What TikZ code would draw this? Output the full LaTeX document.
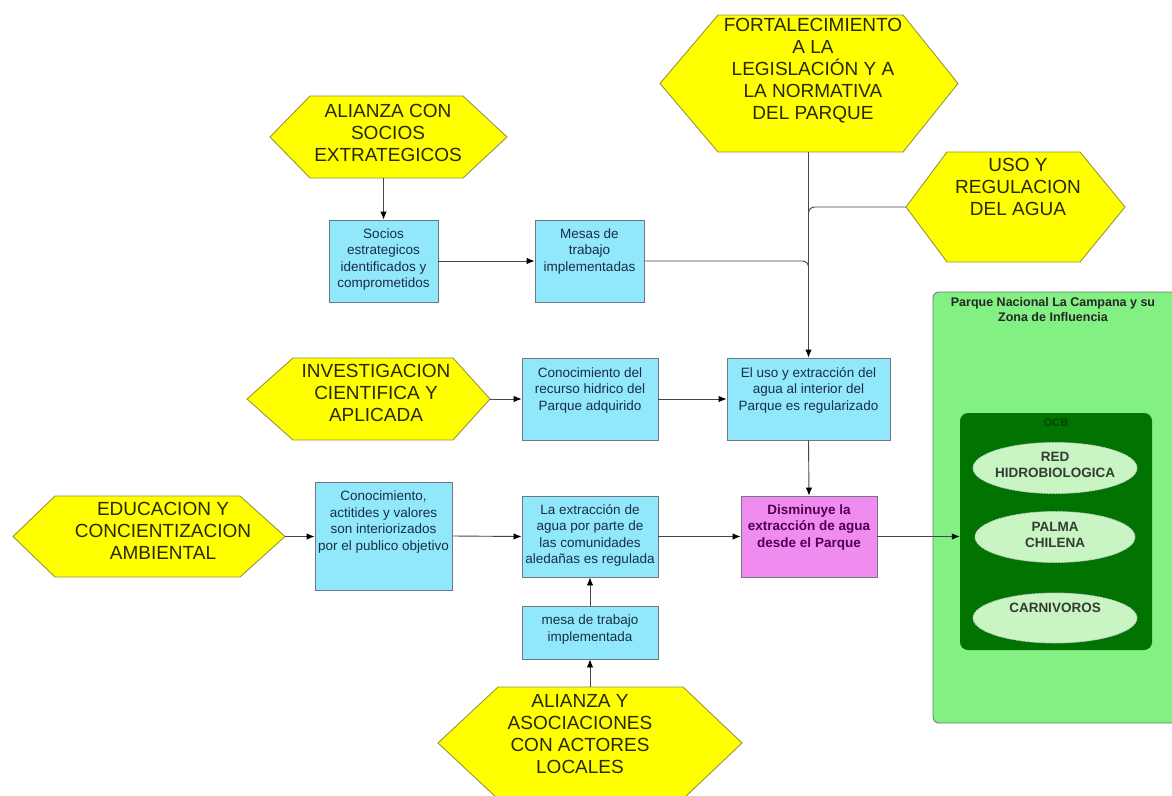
\documentclass[tikz,border=0pt]{standalone}
\usepackage{fontspec}
\setmainfont{Liberation Sans}
\usetikzlibrary{arrows.meta,shapes.geometric}
\definecolor{hexfill}{RGB}{255,255,0}
\definecolor{hexline}{RGB}{150,150,60}
\definecolor{hextext}{RGB}{40,40,10}
\definecolor{boxfill}{RGB}{145,232,250}
\definecolor{boxline}{RGB}{110,120,130}
\definecolor{boxtext}{RGB}{25,45,70}
\definecolor{magfill}{RGB}{240,140,240}
\definecolor{magtext}{RGB}{80,0,80}
\definecolor{parkfill}{RGB}{130,240,130}
\definecolor{parkline}{RGB}{110,130,110}
\definecolor{ocbfill}{RGB}{0,115,0}
\definecolor{ocbtext}{RGB}{0,70,0}
\definecolor{ellfill}{RGB}{200,245,195}
\definecolor{elltext}{RGB}{50,60,50}
\definecolor{linecol}{RGB}{70,70,70}
\tikzset{
  hexa/.style={fill=hexfill, draw=hexline, line width=0.9pt, line join=miter},
  hextxt/.style={text=hextext, align=center, font=\fontsize{19}{22}\selectfont, inner sep=0},
  box/.style={fill=boxfill, draw=boxline, line width=0.9pt, inner sep=0},
  magbox/.style={fill=magfill, draw=boxline, line width=0.9pt, inner sep=0},
  boxtxt/.style={text=boxtext, align=center, font=\fontsize{13.5}{16.5}\selectfont, inner sep=0, anchor=north},
  magtxt/.style={text=magtext, align=center, font=\bfseries\fontsize{13.5}{16.5}\selectfont, inner sep=0, anchor=north},
  conn/.style={draw=linecol, line width=0.9pt, -{Latex[length=8pt,width=6.5pt,color=black]}},
  plain/.style={draw=linecol, line width=0.9pt},
  parkbox/.style={fill=parkfill, draw=parkline, line width=0.9pt, rounded corners=6pt, inner sep=0},
  ocbbox/.style={fill=ocbfill, draw=none, rounded corners=8pt, inner sep=0},
  ell/.style={ellipse, fill=ellfill, draw=white!80!black, dashed, dash pattern=on 2pt off 1pt, line width=0.8pt, inner sep=0},
  elltxt/.style={text=elltext, align=center, font=\bfseries\fontsize{13.5}{16}\selectfont, inner sep=0},
}
\newcommand{\hexpath}[7]{%
  \path[hexa] (#2,{(#6+#7)/2}) -- (#3,#6) -- (#4,#6) -- (#5,{(#6+#7)/2}) -- (#4,#7) -- (#3,#7) -- cycle;
  \coordinate (#1-w) at (#2,{(#6+#7)/2});
  \coordinate (#1-e) at (#5,{(#6+#7)/2});
  \coordinate (#1-n) at ({(#2+#5)/2},#6);
  \coordinate (#1-s) at ({(#2+#5)/2},#7);
}
\begin{document}
\begin{tikzpicture}[x=1pt,y=-1pt]
\clip (0,0) rectangle (1172,795);
\fill[white] (0,0) rectangle (1172,795);

% ---- green panel ----
\node[parkbox, minimum width=247, minimum height=431] (park) at (1056.5,507.5) {};
\node[text=black!85, align=center, font=\bfseries\fontsize{12.5}{15}\selectfont, inner sep=0] (parktitle) at (1053,310) {Parque Nacional La Campana y su\\Zona de Influencia};
\node[ocbbox, minimum width=192, minimum height=237] (ocb) at (1056,531.5) {};
\node[text=ocbtext, font=\bfseries\fontsize{11}{13}\selectfont, inner sep=0] (ocblabel) at (1056,423) {OCB};
\node[ell, minimum width=164, minimum height=51] (e1) at (1055,468) {};
\node[elltxt] (e1t) at (1055,465) {RED\\HIDROBIOLOGICA};
\node[ell, minimum width=160, minimum height=51] (e2) at (1055,537) {};
\node[elltxt] (e2t) at (1055,535) {PALMA\\CHILENA};
\node[ell, minimum width=164, minimum height=50] (e3) at (1055,618) {};
\node[elltxt] (e3t) at (1055,608) {CARNIVOROS};

% ---- hexagons ----
\hexpath{ali1}{270}{310}{463}{507}{96}{178}
\node[hextxt] (ali1t) at (388,133) {ALIANZA CON\\SOCIOS\\EXTRATEGICOS};
\hexpath{fort}{660}{718}{903}{958}{15}{152}
\node[hextxt] (fortt) at (813,71) {FORTALECIMIENTO\\A LA\\LEGISLACIÓN Y A\\LA NORMATIVA\\DEL PARQUE};
\hexpath{uso}{906}{947}{1080}{1125}{152}{262}
\node[hextxt] (usot) at (1018,187) {USO Y\\REGULACION\\DEL AGUA};
\hexpath{inv}{247}{293}{453}{490}{358}{440}
\node[hextxt] (invt) at (376,393) {INVESTIGACION\\CIENTIFICA Y\\APLICADA};
\hexpath{edu}{13}{55}{240}{285}{496}{577}
\node[hextxt] (edut) at (163,531) {EDUCACION Y\\CONCIENTIZACION\\AMBIENTAL};
\hexpath{ali2}{438}{498}{683}{742}{687}{799}
\node[hextxt] (ali2t) at (580,734) {ALIANZA Y\\ASOCIACIONES\\CON ACTORES\\LOCALES};

% ---- boxes ----
\node[box, minimum width=109, minimum height=82] (socios) at (383.5,261) {};
\node[boxtxt] (sociost) at ([yshift=-8.5pt]socios.north) {Socios\\estrategicos\\identificados y\\comprometidos};
\node[box, minimum width=109, minimum height=82] (mesas) at (589.5,261) {};
\node[boxtxt] (mesast) at ([yshift=-8.5pt]mesas.north) {Mesas de\\trabajo\\implementadas};
\node[box, minimum width=136, minimum height=82] (conrec) at (590,399) {};
\node[boxtxt] (conrect) at ([yshift=-9.5pt]conrec.north) {Conocimiento del\\recurso hidrico del\\Parque adquirido};
\node[box, minimum width=163, minimum height=82] (eluso) at (808.5,399) {};
\node[boxtxt] (elusot) at ([yshift=-9.5pt]eluso.north) {El uso y extracción del\\agua al interior del\\Parque es regularizado};
\node[box, minimum width=137, minimum height=108] (conact) at (383.5,536) {};
\node[boxtxt] (conactt) at ([yshift=-9pt]conact.north) {Conocimiento,\\actitides y valores\\son interiorizados\\por el publico objetivo};
\node[box, minimum width=136, minimum height=81] (laextr) at (590,536.5) {};
\node[boxtxt] (laextrt) at ([yshift=-8.5pt]laextr.north) {La extracción de\\agua por parte de\\las comunidades\\aledañas es regulada};
\node[magbox, minimum width=136, minimum height=81] (dism) at (809,536.5) {};
\node[magtxt] (dismt) at ([yshift=-8.5pt]dism.north) {Disminuye la\\extracción de agua\\desde el Parque};
\node[box, minimum width=136, minimum height=53] (mesa2) at (590,632.5) {};
\node[boxtxt] (mesa2t) at ([yshift=-9pt]mesa2.north) {mesa de trabajo\\implementada};

% ---- connectors ----
\coordinate (j1) at (eluso.north |- 0,235);
\coordinate (j2) at (eluso.north |- 0,290);
\draw[conn] (socios.north |- ali1-s) -- (socios.north);
\draw[conn] (socios.east) -- (mesas.west);
\draw[conn] (eluso.north |- fort-s) -- (eluso.north);
\draw[plain, rounded corners=6pt] (uso-w) -| (j1);
\draw[plain, rounded corners=6pt] (mesas.east) -| (j2);
\draw[conn] (inv-e) -- (conrec.west);
\draw[conn] (conrec.east) -- (eluso.west);
\draw[conn] (eluso.south) -- (dism.north);
\draw[conn] (edu-e) -- (conact.west |- edu-e);
\draw[conn] (conact.east) -- (laextr.west);
\draw[conn] (laextr.east) -- (dism.west);
\draw[conn] (dism.east) -- (ocb.west |- dism.east);
\draw[conn] (mesa2.north) -- (laextr.south);
\draw[conn] (ali2-n) -- (mesa2.south);
\end{tikzpicture}
\end{document}
